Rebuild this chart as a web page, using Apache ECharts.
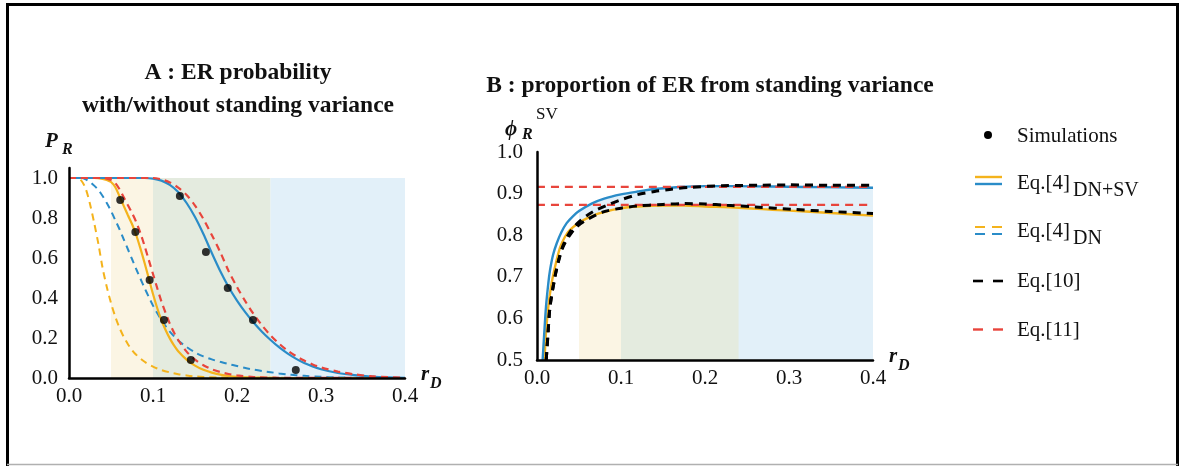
<!DOCTYPE html>
<html>
<head>
<meta charset="utf-8">
<script src="https://cdn.jsdelivr.net/npm/echarts/dist/echarts.min.js"></script>
<style>
  html, body { margin: 0; padding: 0; background: #ffffff; }
  #chart { width: 1185px; height: 466px; }
</style>
</head>
<body>
<div id="chart"></div>
<script>
// ---------- Panel A : ER probability, r_D vs P_R ----------
const regionBounds = [0.05, 0.1, 0.24, 0.4];

const simX = [0.061, 0.079, 0.096, 0.113, 0.145, 0.132, 0.163, 0.189, 0.219, 0.270];
const simY = [0.89, 0.73, 0.49, 0.29, 0.09, 0.91, 0.63, 0.45, 0.29, 0.04];

// Eq.[4] DN+SV, low-variance case (gold)
const aGoldSolid = [[0,1],[0.03,1],[0.04,0.996],[0.045,0.99],[0.05,0.98],[0.055,0.955],[0.06,0.91],
  [0.065,0.862],[0.07,0.815],[0.075,0.77],[0.08,0.715],[0.085,0.648],[0.09,0.575],[0.095,0.498],
  [0.1,0.42],[0.105,0.35],[0.11,0.29],[0.115,0.24],[0.12,0.198],[0.125,0.163],[0.13,0.134],
  [0.14,0.092],[0.15,0.062],[0.16,0.041],[0.17,0.027],[0.18,0.017],[0.19,0.01],[0.2,0.006],
  [0.22,0.002],[0.25,0],[0.4,0]];
// Eq.[4] DN+SV, high-variance case (blue)
const aBlueSolid = [[0,1],[0.09,1],[0.1,0.997],[0.11,0.987],[0.12,0.966],[0.13,0.93],[0.14,0.875],
  [0.15,0.805],[0.16,0.72],[0.17,0.625],[0.18,0.535],[0.19,0.455],[0.2,0.387],[0.21,0.328],
  [0.22,0.276],[0.23,0.23],[0.24,0.19],[0.25,0.154],[0.26,0.123],[0.27,0.097],[0.28,0.075],
  [0.29,0.058],[0.3,0.044],[0.32,0.025],[0.34,0.014],[0.36,0.007],[0.38,0.003],[0.4,0.001]];
// Eq.[4] DN only (dashed)
const aGoldDash = [[0,1],[0.01,1],[0.015,0.985],[0.02,0.945],[0.025,0.87],[0.03,0.775],[0.035,0.67],
  [0.04,0.55],[0.045,0.455],[0.05,0.375],[0.055,0.308],[0.06,0.252],[0.065,0.207],[0.07,0.17],
  [0.075,0.14],[0.08,0.116],[0.09,0.081],[0.1,0.057],[0.11,0.04],[0.12,0.028],[0.13,0.019],
  [0.14,0.013],[0.15,0.008],[0.16,0.005],[0.18,0.002],[0.2,0.001],[0.4,0]];
const aBlueDash = [[0,1],[0.015,1],[0.02,0.993],[0.025,0.98],[0.03,0.962],[0.035,0.94],[0.04,0.91],
  [0.045,0.875],[0.05,0.835],[0.055,0.79],[0.06,0.745],[0.065,0.695],[0.07,0.645],[0.075,0.595],
  [0.08,0.545],[0.085,0.497],[0.09,0.45],[0.095,0.405],[0.1,0.362],[0.105,0.325],[0.11,0.29],
  [0.115,0.26],[0.12,0.232],[0.13,0.188],[0.14,0.155],[0.15,0.128],[0.16,0.108],[0.17,0.093],
  [0.18,0.081],[0.19,0.07],[0.2,0.06],[0.21,0.05],[0.22,0.042],[0.23,0.035],[0.24,0.029],
  [0.25,0.023],[0.26,0.018],[0.27,0.014],[0.28,0.011],[0.3,0.006],[0.32,0.003],[0.35,0.001],[0.4,0]];
// Eq.[11] approximations (red dashed)
const aRedLow = [[0,1],[0.04,1],[0.05,0.99],[0.055,0.975],[0.06,0.945],[0.065,0.905],[0.07,0.865],
  [0.075,0.825],[0.08,0.78],[0.085,0.725],[0.09,0.66],[0.095,0.59],[0.1,0.52],[0.105,0.45],
  [0.11,0.383],[0.115,0.325],[0.12,0.272],[0.125,0.227],[0.13,0.19],[0.14,0.132],[0.15,0.092],
  [0.16,0.064],[0.17,0.044],[0.18,0.03],[0.19,0.02],[0.2,0.013],[0.22,0.005],[0.25,0.001],[0.4,0]];
const aRedHigh = [[0,1],[0.1,1],[0.11,0.993],[0.12,0.978],[0.13,0.952],[0.14,0.915],[0.15,0.862],
  [0.16,0.795],[0.17,0.715],[0.18,0.63],[0.19,0.535],[0.2,0.455],[0.21,0.383],[0.22,0.318],
  [0.23,0.262],[0.24,0.213],[0.25,0.172],[0.26,0.138],[0.27,0.11],[0.28,0.087],[0.29,0.068],
  [0.3,0.053],[0.32,0.032],[0.34,0.018],[0.36,0.009],[0.38,0.004],[0.4,0.002]];

// ---------- Panel B : proportion of ER from standing variance ----------
const bBlueSolid = [[0.0067,0.5],[0.0085,0.56],[0.0107,0.628],[0.0135,0.685],[0.0155,0.716],[0.019,0.752],
  [0.0234,0.78],[0.029,0.807],[0.0353,0.829],[0.043,0.846],[0.05,0.858],[0.065,0.876],[0.08,0.888],
  [0.1,0.898],[0.12,0.905],[0.14,0.911],[0.17,0.916],[0.2,0.918],[0.24,0.918],[0.28,0.917],
  [0.32,0.916],[0.36,0.915],[0.4,0.914]];
const bGoldSolid = [[0.009,0.5],[0.0105,0.56],[0.0135,0.628],[0.017,0.68],[0.021,0.72],[0.0274,0.77],
  [0.033,0.795],[0.039,0.812],[0.05,0.83],[0.06,0.841],[0.075,0.853],[0.1,0.865],[0.12,0.869],
  [0.15,0.871],[0.175,0.871],[0.2,0.869],[0.24,0.866],[0.28,0.861],[0.32,0.857],[0.36,0.852],[0.4,0.847]];
// Eq.[10] (black dashed)
const bBlackHigh = [[0.011,0.5],[0.013,0.56],[0.0155,0.628],[0.0214,0.7],[0.026,0.742],[0.031,0.775],
  [0.04,0.81],[0.05,0.832],[0.06,0.848],[0.07,0.86],[0.087,0.875],[0.1,0.885],[0.1187,0.897],
  [0.14,0.905],[0.158,0.91],[0.182,0.915],[0.22,0.919],[0.265,0.92],[0.3,0.921],[0.35,0.92],[0.4,0.92]];
const bBlackLow = [[0.011,0.5],[0.013,0.56],[0.0155,0.628],[0.0214,0.7],[0.026,0.74],[0.031,0.772],
  [0.038,0.797],[0.047,0.82],[0.06,0.838],[0.079,0.856],[0.1,0.865],[0.1187,0.87],[0.15,0.874],
  [0.174,0.876],[0.2,0.875],[0.226,0.872],[0.26,0.868],[0.305,0.862],[0.35,0.857],[0.4,0.852]];
// Eq.[11] limits (red dashed)
const bRedLevels = [0.916, 0.873];

// ---------- styling ----------
const FONT = '"Liberation Serif", "Times New Roman", "DejaVu Serif", serif';
const GOLD = '#f4b31c', BLUE = '#2a8cc8', RED = '#e8453c', BLACK = '#000000';
const SHADE_Y = '#fbf5e4', SHADE_G = '#e4ebdf', SHADE_B = '#e2f0f9';

const chart = echarts.init(document.getElementById('chart'), null, { renderer: 'canvas' });

function tickFmt(step) {
  return v => (Math.abs(v / step - Math.round(v / step)) < 1e-6 ? v.toFixed(1) : '');
}
function axisBase() {
  return {
    z: 10,
    axisLine: { show: true, onZero: false, lineStyle: { color: '#000', width: 2.5 } },
    axisTick: { show: false },
    splitLine: { show: false },
  };
}
function inRange(arr, lo, hi) { return arr.filter(p => p[0] >= lo - 1e-9 && p[0] <= hi + 1e-9); }

function line(data, color, xi, dashed, width, z) {
  return {
    type: 'line', data, xAxisIndex: xi, yAxisIndex: xi,
    showSymbol: false, smooth: 0.3, silent: true, z: z || 3,
    lineStyle: { color, width: width || 2, type: dashed ? dashed : 'solid', cap: 'butt' },
  };
}
function area(data, color, z) {
  return {
    type: 'line', data, xAxisIndex: 1, yAxisIndex: 1, showSymbol: false, smooth: 0.3,
    silent: true, z,
    lineStyle: { width: 0 }, areaStyle: { color, opacity: 1, origin: 'start' },
  };
}

const shadeColors = [SHADE_Y, SHADE_G, SHADE_B];
const regionsA = shadeColors.map((c, i) => [
  { xAxis: regionBounds[i], yAxis: 0, itemStyle: { color: c } },
  { xAxis: regionBounds[i + 1], yAxis: 1 }
]);

const series = [
  // panel A shaded bands
  { type: 'line', data: [], xAxisIndex: 0, yAxisIndex: 0, z: 1, silent: true,
    markArea: { silent: true, data: regionsA, itemStyle: { opacity: 1 } } },
  line(aGoldDash, GOLD, 0, [7, 5]),
  line(aBlueDash, BLUE, 0, [7, 5]),
  line(aGoldSolid, GOLD, 0, null, 2.2),
  line(aBlueSolid, BLUE, 0, null, 2.2),
  line(aRedLow, RED, 0, [7, 5], 2.2),
  line(aRedHigh, RED, 0, [7, 5], 2.2),
  { type: 'scatter', xAxisIndex: 0, yAxisIndex: 0, z: 6, silent: true,
    data: simX.map((x, i) => [x, simY[i]]), symbolSize: 8, itemStyle: { color: '#000' } },

  // panel B shaded areas under the curves
  area(inRange(bBlueSolid, regionBounds[0], regionBounds[3]), SHADE_B, 1),
  area(inRange(bGoldSolid, regionBounds[0], regionBounds[1]), SHADE_Y, 2),
  area(inRange(bGoldSolid, regionBounds[1], regionBounds[2]), SHADE_G, 2),
  line(bGoldSolid, GOLD, 1, null, 2.4),
  line(bBlueSolid, BLUE, 1, null, 2.4),
  ...bRedLevels.map(v => line([[0, v], [0.4, v]], RED, 1, [8, 6], 2.2, 4)),
  line(bBlackLow, BLACK, 1, [8, 6], 3, 5),
  line(bBlackHigh, BLACK, 1, [8, 6], 3, 5),
];

// legend entries and labels drawn as graphics
const txt = (text, x, y, size, opts) => ({
  type: 'text', x, y, silent: true,
  style: Object.assign({ text, fill: '#111', fontFamily: FONT, fontSize: size,
    textAlign: 'left', textVerticalAlign: 'middle' }, (opts && opts.style) || {})
});
const seg = (x1, y1, x2, y2, color, w, dash) => ({
  type: 'line', silent: true, shape: { x1, y1, x2, y2 },
  style: { stroke: color, lineWidth: w, lineDash: dash || null }
});
const bi = { style: { fontWeight: 'bold', fontStyle: 'italic' } };
const bold = { style: { fontWeight: 'bold', textAlign: 'center' } };

const LX = 1017;
const graphics = [
  // frame
  { type: 'polyline', silent: true, shape: { points: [[7.5, 466], [7.5, 4.5], [1177.5, 4.5], [1177.5, 466]] },
    style: { stroke: '#000', lineWidth: 3, fill: null } },
  seg(7, 464.5, 1178, 464.5, '#b0b0b0', 1.5),

  // titles
  txt('A : ER probability', 238, 73, 23.5, bold),
  txt('with/without standing variance', 238, 106, 23.5, bold),
  txt('B : proportion of ER from standing variance', 710, 86, 23.5, bold),

  // axis names
  txt('P', 45, 142, 21, bi),
  txt('R', 62, 150, 16, bi),
  txt('\u03D5', 505, 130, 21, bi),
  txt('R', 522, 135, 16, bi),
  txt('SV', 536, 115, 17),
  txt('r', 421, 375, 21, bi),
  txt('D', 430, 384, 16, bi),
  txt('r', 889, 357, 21, bi),
  txt('D', 898, 366, 16, bi),

  // legend
  { type: 'circle', silent: true, shape: { cx: 988, cy: 135, r: 4 }, style: { fill: '#000' } },
  txt('Simulations', LX, 136, 21),

  seg(975, 177, 1002, 177, GOLD, 2.4),
  seg(975, 184, 1002, 184, BLUE, 2.4),
  txt('Eq.[4]', LX, 183, 21),
  txt('DN+SV', 1073, 191, 20),

  seg(975, 227, 1002, 227, GOLD, 2.2, [10, 7]),
  seg(975, 234, 1002, 234, BLUE, 2.2, [10, 7]),
  txt('Eq.[4]', LX, 231, 21),
  txt('DN', 1073, 239, 20),

  seg(973, 281, 1003, 281, BLACK, 2.6, [10, 10]),
  txt('Eq.[10]', LX, 281, 21),

  seg(973, 329.5, 1003, 329.5, RED, 2.4, [10, 10]),
  txt('Eq.[11]', LX, 330, 21),
];

const option = {
  backgroundColor: '#ffffff',
  animation: false,
  textStyle: { fontFamily: FONT },
  grid: [
    { left: 69, top: 168, width: 336, height: 210, containLabel: false },
    { left: 537, top: 152, width: 336, height: 208, containLabel: false },
  ],
  xAxis: [
    Object.assign(axisBase(), { type: 'value', gridIndex: 0, min: 0, max: 0.4, interval: 0.1,
      axisLabel: { color: '#111', fontFamily: FONT, fontSize: 21, margin: 8, formatter: tickFmt(0.1) } }),
    Object.assign(axisBase(), { type: 'value', gridIndex: 1, min: 0, max: 0.4, interval: 0.1,
      axisLabel: { color: '#111', fontFamily: FONT, fontSize: 21, margin: 8, formatter: tickFmt(0.1) } }),
  ],
  yAxis: [
    Object.assign(axisBase(), { type: 'value', gridIndex: 0, min: 0, max: 1.05, interval: 0.2,
      axisLabel: { color: '#111', fontFamily: FONT, fontSize: 21, margin: 11, formatter: tickFmt(0.2) } }),
    Object.assign(axisBase(), { type: 'value', gridIndex: 1, min: 0.5, max: 1.0, interval: 0.1,
      axisLabel: { color: '#111', fontFamily: FONT, fontSize: 21, margin: 14, formatter: tickFmt(0.1) } }),
  ],
  series,
  graphic: graphics,
};
chart.setOption(option);
</script>
</body>
</html>
